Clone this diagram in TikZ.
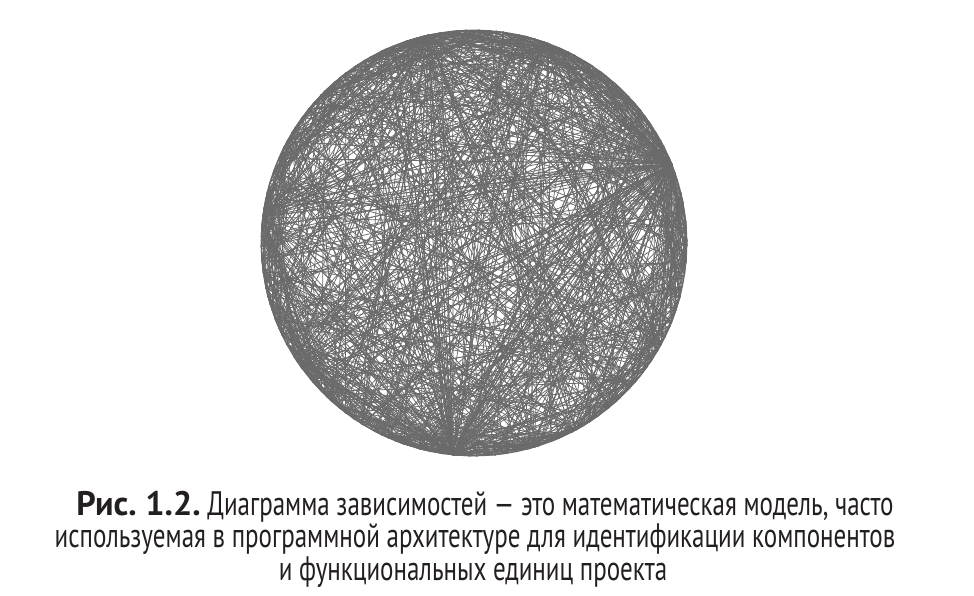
\documentclass[tikz,border=0pt]{standalone}
\usepackage{fontspec}
\setmainfont{PT Sans}
\newfontfamily\capfont{PT Sans}[FakeStretch=0.735]
\newfontfamily\figfont{PT Sans}
\usepackage{tikz}
\definecolor{chordgray}{RGB}{106,106,106}
\definecolor{captext}{RGB}{35,31,32}
\frenchspacing

\begin{document}
\begin{tikzpicture}[x=1pt,y=-1pt,inner sep=0pt,outer sep=0pt,
  chord/.style={draw=chordgray,line width=0.75pt},
  capline/.style={anchor=base,text=captext,font=\fontsize{34}{36}\selectfont\capfont}]
	\useasboundingbox (0,0) rectangle (974,596);
	\pgfmathsetseed{1207}
	% points on the rim
	\begin{scope}[shift={(474,243)}]
	\foreach \i in {0,...,143}
		\coordinate (v\i) at ({\i*2.5+rnd*2.2}:213);
	\end{scope}
	% random dependencies
	\foreach \k in {1,...,600} {
		\pgfmathtruncatemacro\a{random(0,143)}
		\pgfmathtruncatemacro\b{random(0,143)}
		\draw[chord] (v\a) -- (v\b);
	}
	% short links near the rim
	\foreach \k in {1,...,220} {
		\pgfmathtruncatemacro\a{random(0,143)}
		\pgfmathtruncatemacro\b{mod(\a+random(3,22),144)}
		\draw[chord] (v\a) -- (v\b);
	}
	% hubs
	\foreach \h/\n in {135/130,38/100,103/60,74/45,116/30} {
		\foreach \k in {1,...,\n} {
			\pgfmathtruncatemacro\b{random(0,143)}
			\draw[chord] (v\h) -- (v\b);
		}
	}
	\draw[chordgray,line width=1.4pt] (474,243) circle (212.6);
	% caption
	\node[capline] (l1) at (485,515) {{\figfont\bfseries Рис. 1.2.} Диаграмма зависимостей — это математическая модель, часто};
	\node[capline] (l2) at (475,547) {используемая в программной архитектуре для идентификации компонентов};
	\node[capline] (l3) at (473,580) {и функциональных единиц проекта};
\end{tikzpicture}
\end{document}
